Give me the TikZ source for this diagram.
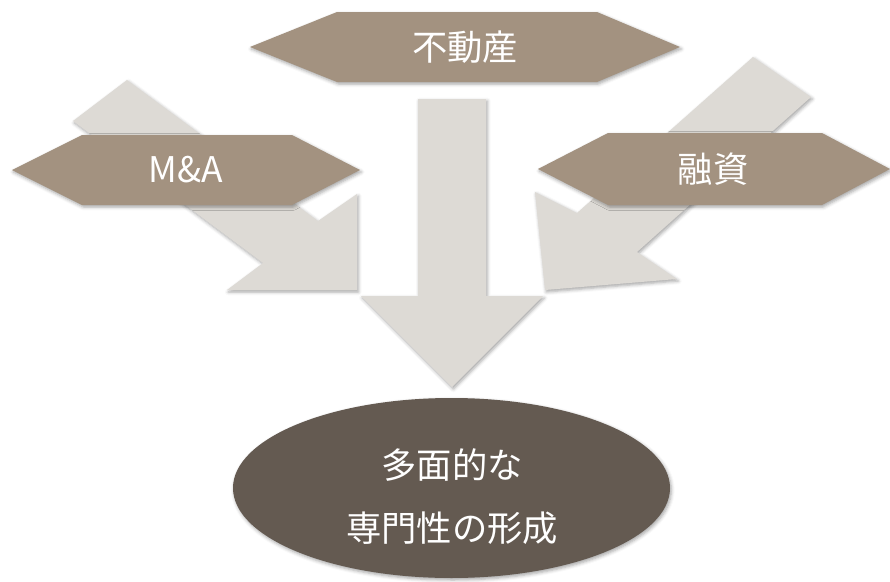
\documentclass[tikz,border=0pt]{standalone}
\usepackage{fontspec}
\newfontfamily\jpfont{Noto Sans CJK JP}
\usetikzlibrary{shadows.blur}

\definecolor{tagbrown}{RGB}{163,146,128}
\definecolor{arrowgray}{RGB}{221,218,213}
\definecolor{ovaldark}{RGB}{100,90,81}

\tikzset{
  softshadow/.style={blur shadow={shadow xshift=1pt,shadow yshift=-1.5pt,shadow blur radius=2.5pt,shadow opacity=35}},
  blockarrow/.style={fill=arrowgray,softshadow},
  tagshape/.style={fill=tagbrown,softshadow},
  tagtext/.style={text=white,font=\jpfont\fontsize{26.5}{30}\selectfont}
}

\begin{document}
\begin{tikzpicture}[x=0.75pt,y=0.75pt,yscale=-1,xscale=1]
\path[use as bounding box] (0,0) rectangle (890,582);

%Shape: Arrow from M&A
\path[blockarrow] (127,80) -- (318,221) -- (357,194) -- (357,290) -- (227,290) -- (263,263) -- (73,121) -- cycle ;
%Shape: Arrow from 融資
\path[blockarrow] (753,57) -- (811,97) -- (637,252) -- (677,279) -- (545,290) -- (535,192) -- (577,213) -- cycle ;
%Shape: Arrow from 不動産
\path[blockarrow] (418,99) -- (486,99) -- (486,296) -- (543,296) -- (452,387) -- (361,296) -- (418,296) -- cycle ;

%Shape: Hexagon top
\path[tagshape] (250,47) -- (337,12) -- (597,12) -- (680,47) -- (597,82) -- (337,82) -- cycle ;
%Shape: Hexagon left
\path[tagshape] (12,170) -- (82,135) -- (292,135) -- (360,170) -- (292,205) -- (82,205) -- cycle ;
%Shape: Hexagon right
\path[tagshape] (538,169) -- (608,133) -- (822,133) -- (890,169) -- (822,205) -- (608,205) -- cycle ;

%Shape: Ellipse
\path[fill=ovaldark,softshadow] (451.5,488) ellipse (218.5 and 90) ;

% Text Node
\draw (465,47) node[tagtext] (fudosan) {不動産};
% Text Node
\draw (186,170) node[tagtext] (manda) {M\&A};
% Text Node
\draw (713,169) node[tagtext] (yushi) {融資};
% Text Node
\draw (452,496.5) node[tagtext,align=center,font=\jpfont\fontsize{26.5}{47}\selectfont] (senmon) {多面的な\\専門性の形成};

\end{tikzpicture}
\end{document}
